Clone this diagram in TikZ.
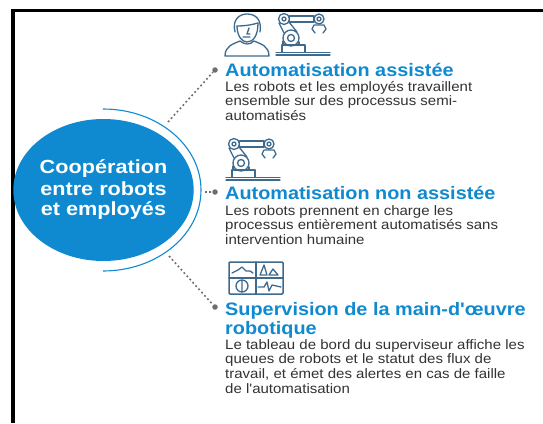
\documentclass[tikz,border=0pt]{standalone}
\usepackage{fontspec}
\usetikzlibrary{shapes.geometric}
\setmainfont{Liberation Sans}
\newfontfamily\hubfont[FakeStretch=1.14]{Liberation Sans}
\newfontfamily\titfont[FakeStretch=1.1]{Liberation Sans}
\newfontfamily\corfont[FakeStretch=1.1]{Liberation Sans}
\definecolor{bleu}{HTML}{0F8AD0}
\definecolor{icone}{HTML}{3E6A8E}
\definecolor{gris}{HTML}{6E6E6E}
\definecolor{texte}{HTML}{333333}
\tikzset{
 hub/.style={ellipse,fill=bleu,text=white,minimum width=171pt,minimum height=142pt,inner sep=0pt,align=center,font=\hubfont\fontsize{19}{21}\selectfont\bfseries},
 titre/.style={anchor=north west,inner sep=0pt,text=bleu,align=left,font=\titfont\fontsize{18.05}{19}\selectfont\bfseries},
 corps/.style={anchor=north west,inner sep=0pt,text=texte,align=left,font=\corfont\fontsize{13.65}{14.7}\selectfont},
 puce/.style={circle,fill=gris,minimum size=5.5pt,inner sep=0pt},
 lien/.style={gris,line width=1.6pt,dash pattern=on 1.8pt off 2.6pt},
 ico/.style={icone,line width=1.3pt,line join=round,line cap=round},
}
\newcommand{\robotarm}[1]{%
\begin{scope}[shift={#1}]
 \draw[ico] (0,38.5)--(54,38.5) (0,41)--(54,41);
 \draw[ico] (6,38.5) rectangle (29,31);
 \draw[ico] (7,31)--(7,27) (23,31)--(23,28);
 \draw[ico] (15,24) circle (8) (15,24) circle (3.5);
 \draw[ico] (3,9)--(8,19) (13,8)--(21,18);
 \draw[ico] (8,5) circle (5.5) (8,5) circle (2);
 \draw[ico] (13.5,2) rectangle (38,8);
 \draw[ico] (43,5) circle (5) (43,5) circle (2);
 \draw[ico] (38,11)--(36,15)--(39,19) (48,11)--(50,15)--(47,19) (38,11)--(48,11);
\end{scope}}
\begin{document}
\begin{tikzpicture}[x=1pt,y=-1pt]
\useasboundingbox (0,0) rectangle (543,423);
\fill[white] (0,0) rectangle (543,423);
\draw[black,line width=3.5pt] (13,423)--(13,10.5)--(543,10.5);
\node[hub] (centre) at (103.5,190) {Coopération\\entre robots\\et employés};
\draw[bleu,line width=1.1pt] (103,109) arc[start angle=-90,end angle=90,x radius=98pt,y radius=-81pt];
\node[puce] (p1) at (215,70) {};
\node[puce] (p2) at (215,192) {};
\node[puce] (p3) at (215,307) {};
\coordinate (d1) at (168,122);
\coordinate (d2) at (205,192);
\coordinate (d3) at (169,256);
\draw[lien] (d1)--(p1);
\draw[lien] (d2)--(p2);
\draw[lien] (d3)--(p3);
\node[titre] (t1) at (225,63) {Automatisation assistée};
\node[corps] (c1) at (225,81) {Les robots et les employés travaillent\\ensemble sur des processus semi-\\automatisés};
\node[titre] (t2) at (225,186) {Automatisation non assistée};
\node[corps] (c2) at (225,205) {Les robots prennent en charge les\\processus entièrement automatisés sans\\intervention humaine};
\node[titre] (t3) at (225,302) {Supervision de la main-d'œuvre\\robotique};
\node[corps] (c3) at (225,339) {Le tableau de bord du superviseur affiche les\\queues de robots et le statut des flux de\\travail, et émet des alertes en cas de faille\\de l'automatisation};
% person
\begin{scope}[shift={(225,14)}]
 \draw[ico] (0,42) .. controls (0,32) and (8,30) .. (15,27) .. controls (20,31) and (25,31) .. (29,27) .. controls (36,30) and (44,32) .. (44,42) -- cycle;
 \draw[ico] (12,12) .. controls (12,22) and (17,28) .. (22,28) .. controls (28,28) and (33,22) .. (33,9);
 \draw[ico] (10,18) .. controls (7,6) and (14,0) .. (22,0) .. controls (31,0) and (37,6) .. (35,18);
 \draw[ico] (12,12) .. controls (20,12) and (26,11) .. (33,9);
 \draw[ico] (24,14)--(22,20)--(25,20) (18,23)--(25,23);
\end{scope}
\robotarm{(276,14)}
\robotarm{(226,139)}
% dashboard
\begin{scope}[shift={(229,262)}]
 \draw[ico,line width=1.5pt,rounded corners=1pt] (0,0) rectangle (54,32);
 \draw[ico,line width=1.5pt] (27,0)--(27,32) (0,16)--(54,16);
 \draw[ico] (3,11)--(9,8)--(13,5)--(17,9)--(21,9)--(24,11);
 \draw[ico] (31,13)--(35,3)--(38,13)--cycle (40,13)--(44,7)--(49,13)--cycle;
 \draw[ico] (13,24) circle (6) (13,18)--(13,30);
 \draw[ico] (29,25)--(35,25)--(38,20)--(40,29)--(43,23)--(52,25);
\end{scope}
\end{tikzpicture}
\end{document}
